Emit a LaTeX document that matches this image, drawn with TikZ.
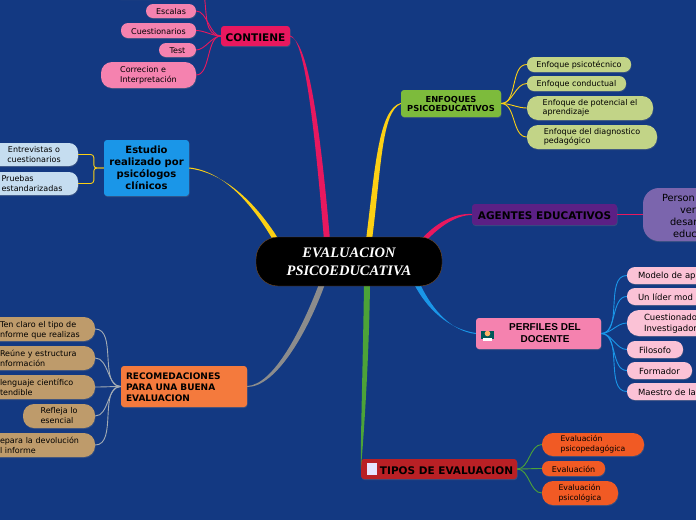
\documentclass[tikz,border=0pt]{standalone}
\usepackage{fontspec}
\setmainfont{DejaVu Sans}
\newfontfamily\timesfont{Liberation Serif}
\newfontfamily\arialfont{Liberation Sans}
\usetikzlibrary{shadows,calc}
\definecolor{qback}{RGB}{19,57,130}
\definecolor{qpink}{RGB}{232,24,95}
\definecolor{qyellow}{RGB}{252,208,20}
\definecolor{qblue}{RGB}{26,150,232}
\definecolor{qgreen}{RGB}{76,163,56}
\definecolor{qgrey}{RGB}{140,140,140}
\definecolor{qlawn}{RGB}{125,187,60}
\definecolor{qpurple}{RGB}{91,32,133}
\definecolor{qviolet}{RGB}{123,101,173}
\definecolor{qred}{RGB}{185,32,37}
\definecolor{qcoral}{RGB}{244,122,61}
\definecolor{qleaf}{RGB}{245,130,175}
\definecolor{qsky}{RGB}{197,221,240}
\definecolor{qtan}{RGB}{190,155,107}
\definecolor{qlime}{RGB}{194,212,135}
\definecolor{qrose}{RGB}{251,194,214}
\definecolor{qorange}{RGB}{241,90,36}
\tikzset{
  main/.style={rounded corners=3pt, inner sep=0pt, align=center, text=black,
    execute at begin node={\rule{0pt}{1em}},
    drop shadow={shadow xshift=0.5pt, shadow yshift=-1pt, opacity=0.3}},
  leaf/.style={main, rounded corners=#1pt, align=left, font=\fontsize{8}{10}\selectfont},
  dims/.style 2 args={minimum width=#1pt, minimum height=#2pt},
  pad/.style 2 args={inner xsep=#1pt, text width=#2pt},
  twig/.style={line width=0.9pt},
}
% tapering branch from a topic box to the centre
\newcommand{\branch}[5]{\fill[#1] ($(#2)+(0,-0.5)$) .. controls ($(#3)+(-1.5,-1)$) and ($(#4)+(-3,-1)$) .. ($(#5)+(-3,0)$) -- ($(#5)+(3,0)$) .. controls ($(#4)+(3,1)$) and ($(#3)+(1.5,1)$) .. ($(#2)+(0,0.5)$) -- cycle;}
\begin{document}
\begin{tikzpicture}[x=1pt,y=-1pt]
\fill[qback] (0,0) rectangle (696,520);
\useasboundingbox (0,0) rectangle (696,520);
\clip (0,0) rectangle (696,520);

\coordinate (c1) at (327,240);
\coordinate (c2) at (276,240);
\coordinate (c3) at (369,240);
\coordinate (c4) at (423,241);
\coordinate (c5) at (417,284);
\coordinate (c6) at (367,284);
\coordinate (c7) at (322,284);

% topics
\node[main, dims={69}{20}, fill=qpink, font=\fontsize{10.5}{12}\selectfont\bfseries] (contiene) at (255.5,36) {CONTIENE};
\node[main, dims={85}{56}, fill=qblue, font=\fontsize{10}{12}\selectfont\bfseries] (estudio) at (146.5,168) {Estudio\\realizado por\\psicólogos\\clínicos};
\node[main, dims={100}{27}, fill=qlawn, font=\fontsize{8.3}{9}\selectfont\bfseries] (enfoques) at (451,103.5) {ENFOQUES\\PSICOEDUCATIVOS};
\node[main, dims={145}{21}, fill=qpurple, font=\fontsize{10.5}{12}\selectfont\bfseries] (agentes) at (544.5,214.5) {AGENTES EDUCATIVOS};
\node[main, dims={125}{31}, fill=qleaf, font=\arialfont\fontsize{10}{12}\selectfont\bfseries] (perfiles) at (538.5,333.5) {\hspace*{13pt}PERFILES DEL\\\hspace*{13pt}DOCENTE};
\node[main, dims={156}{20}, fill=qred, font=\fontsize{10.5}{12}\selectfont\bfseries] (tipos) at (439,469) {\hspace*{15pt}TIPOS DE EVALUACION};
\node[main, dims={126}{41}, pad={5}{116}, align=left, fill=qcoral, font=\fontsize{9}{11}\selectfont\bfseries] (recomed) at (184,386.5) {RECOMEDACIONES\\PARA UNA BUENA\\EVALUACION};

% main branches
\branch{qpink}{contiene.east}{305,40}{316,110}{c1}
\branch{qyellow}{estudio.east}{225,172}{255,205}{c2}
\branch{qyellow}{enfoques.west}{380,110}{378,170}{c3}
\branch{qpink}{agentes.west}{455,214}{437,225}{c4}
\branch{qblue}{perfiles.west}{450,330}{430,310}{c5}
\branch{qgreen}{tipos.west}{362,440}{366,360}{c6}
\branch{qgrey}{recomed.east}{275,386}{305,330}{c7}

% centre
\node[draw=brown!60!black, fill=black, rounded corners=22pt, dims={186}{49}, inner sep=0pt, align=center, text=white, font=\timesfont\fontsize{14.5}{18}\selectfont\bfseries\itshape] (centro) at (349,261.5) {EVALUACION\\PSICOEDUCATIVA};

% leaves of contiene
\node[leaf=7, dims={54}{14}, fill=qleaf] (upper) at (140,-8) {};
\node[leaf=7, dims={50}{14}, fill=qleaf] (escalas) at (171,11) {Escalas};
\node[leaf=7, dims={75}{15}, fill=qleaf] (cuestion) at (158.5,30.5) {Cuestionarios};
\node[leaf=7, dims={37}{14}, fill=qleaf] (test) at (177.5,50) {Test};
\node[leaf=11, dims={95}{26}, fill=qleaf] (correcion) at (148.5,75) {Correcion e\\Interpretación};
\foreach \leafname in {escalas,cuestion,test,correcion}
  \draw[qpink, twig] (\leafname.east) to[out=0, in=180, looseness=0.8] (contiene.west);
\draw[qpink, twig] (upper.east) ++(37,4) to[out=-80, in=180] (contiene.west);

% leaves of estudio
\node[leaf=9, dims={88}{23}, fill=qsky, align=center] (entrev) at (34,154.5) {Entrevistas o\\cuestionarios};
\node[leaf=9, dims={92}{23}, fill=qsky] (pruebas) at (32,183.5) {Pruebas\\estandarizadas};
\draw[qyellow, twig, rounded corners=3pt] (estudio.west) -- ++(-10,0) |- (entrev.east);
\draw[qyellow, twig, rounded corners=3pt] (estudio.west) -- ++(-10,0) |- (pruebas.east);

% leaves of recomedaciones
\node[leaf=11, dims={110}{24}, pad={15}{80}, fill=qtan] (tenclaro) at (40,329) {Ten claro el tipo de\\nforme que realizas};
\node[leaf=11, dims={110}{24}, pad={15}{80}, fill=qtan] (reune) at (40,358) {Reúne y estructura\\nformación};
\node[leaf=11, dims={110}{24}, pad={15}{80}, fill=qtan] (lenguaje) at (40,387) {lenguaje científico\\tendible};
\node[leaf=11, dims={72}{24}, fill=qtan] (refleja) at (59,416) {Refleja lo\\esencial};
\node[leaf=11, dims={110}{24}, pad={15}{80}, fill=qtan] (prepara) at (40,445) {epara la devolución\\l informe};
\foreach \leafname in {tenclaro,reune,lenguaje,refleja,prepara}
  \draw[qgrey!60!qsky, twig] (\leafname.east) to[out=0, in=180, looseness=0.9] (recomed.west);

% leaves of enfoques
\node[leaf=7, dims={104}{15}, fill=qlime] (psicotec) at (579,64.5) {Enfoque psicotécnico};
\node[leaf=7, dims={99}{15}, fill=qlime] (conduct) at (576.5,83.5) {Enfoque conductual};
\node[leaf=11, dims={126}{24}, fill=qlime, font=\fontsize{8}{9.5}\selectfont] (potencial) at (590,108) {Enfoque de potencial el\\aprendizaje};
\node[leaf=11, dims={130}{24}, fill=qlime, font=\fontsize{8}{9.5}\selectfont] (diagnos) at (592,137) {Enfoque del diagnostico\\pedagógico};
\foreach \leafname in {psicotec,conduct,potencial,diagnos}
  \draw[qyellow, twig] (enfoques.east) to[out=0, in=180, looseness=0.9] (\leafname.west);

% agentes
\node[leaf=16, dims={90}{53}, pad={19}{52}, fill=qviolet, font=\fontsize{9.8}{12}\selectfont] (personas) at (688,214.5) {Person\\\hspace*{18pt}ver\\\hspace*{8pt}desar\\\hspace*{11pt}educ};
\draw[qpink, twig] (agentes.east) -- (personas.west);

% leaves of perfiles
\tikzset{rosa/.style={leaf=#1, fill=qrose, font=\fontsize{8.5}{11}\selectfont}}
\node[rosa=8, dims={110}{17}, pad={11}{88}, fill=qrose] (modelo) at (682,275.5) {Modelo de ap};
\node[rosa=8, dims={110}{17}, pad={11}{88}, fill=qrose] (lider) at (682,296.5) {Un líder mod};
\node[rosa=12, dims={110}{26}, pad={17}{76}, fill=qrose] (cuestionador) at (682,323) {Cuestionado\\Investigador};
\node[rosa=8, dims={56}{17}, fill=qrose] (filosofo) at (655,349.5) {Filosofo};
\node[rosa=8, dims={65}{17}, fill=qrose] (formador) at (659.5,370.5) {Formador};
\node[rosa=8, dims={110}{17}, pad={11}{88}, fill=qrose] (maestro) at (682,391.5) {Maestro de la};
\foreach \leafname in {modelo,lider,cuestionador,filosofo,formador,maestro}
  \draw[qblue, twig] (perfiles.east) to[out=0, in=180, looseness=0.9] (\leafname.west);

% leaves of tipos
\node[leaf=11, dims={102}{23}, fill=qorange, font=\fontsize{7.7}{10}\selectfont] (psicoped) at (593,444.5) {Evaluación\\psicopedagógica};
\node[leaf=7, dims={63}{15}, fill=qorange] (evaluacion) at (573.5,468.5) {Evaluación};
\node[leaf=11, dims={76}{24}, fill=qorange, font=\fontsize{7.7}{10}\selectfont] (psicolog) at (580,493) {Evaluación\\psicológica};
\foreach \leafname in {psicoped,evaluacion,psicolog}
  \draw[qgreen, twig] (tipos.east) to[out=0, in=180, looseness=0.9] (\leafname.west);

% icons
\fill[white!90!blue] (367,463) rectangle (377,475);
\fill[teal!70!black] (481,331) rectangle (494,339);
\fill[orange!60!white] (487.5,333.5) circle (2.8);
\fill[white] (483,338) rectangle (492,341);
\end{tikzpicture}
\end{document}
